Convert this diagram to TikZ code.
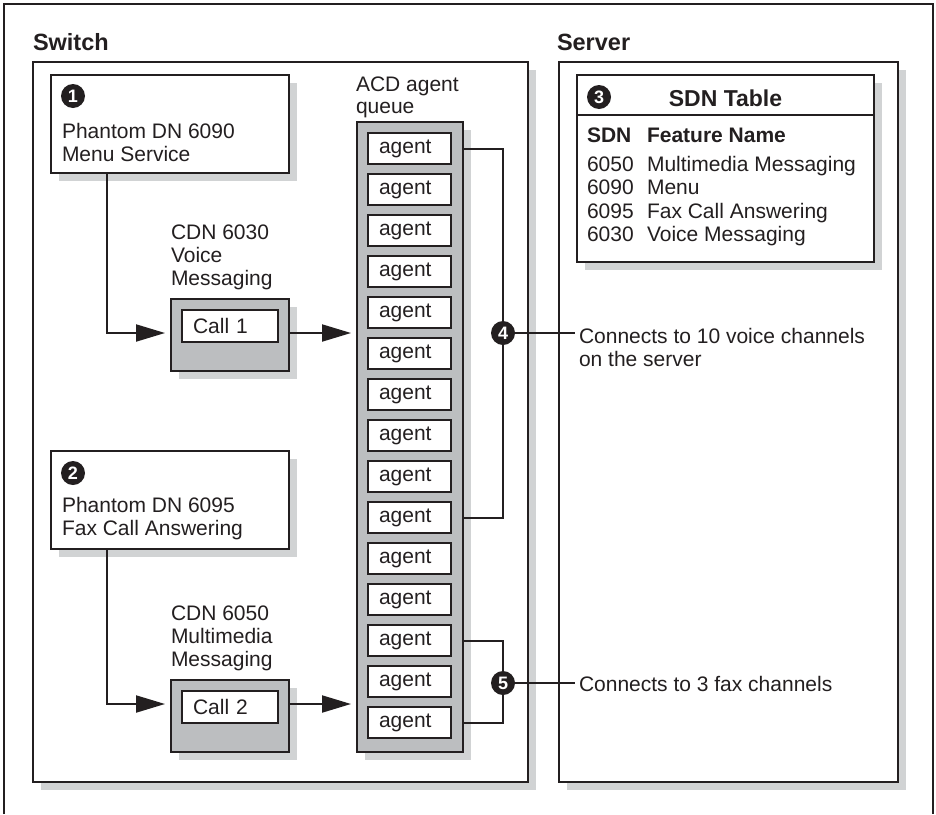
\documentclass[tikz,border=0pt]{standalone}
\usepackage{fontspec}
\setmainfont{Liberation Sans}
\usetikzlibrary{arrows.meta,shadows,calc}
\definecolor{ink}{HTML}{231F20}
\definecolor{boxgray}{HTML}{BCBEC0}
\definecolor{shadegray}{HTML}{D1D3D4}
\begin{document}
\begin{tikzpicture}[x=1pt,y=-1pt,
  every node/.style={inner sep=0pt, outer sep=0pt, text=ink},
  txt/.style={font=\fontsize{21}{23}\selectfont, anchor=base west},
  hdr/.style={font=\fontsize{21}{23}\selectfont\bfseries, anchor=base west},
  ttl/.style={font=\fontsize{23.5}{26}\selectfont\bfseries, anchor=base west},
  shadowed/.style={general shadow={shadow xshift=8pt, shadow yshift=-8pt, fill=shadegray}},
  panel/.style={draw=ink, line width=1.3pt, fill=white, shadowed, anchor=north west},
  graybox/.style={draw=ink, line width=1.3pt, fill=boxgray, shadowed, anchor=north west},
  agentbox/.style={draw=ink, line width=1.2pt, fill=white, anchor=north west,
    minimum width=83pt, minimum height=31pt, text width=61pt, align=left,
    inner xsep=11pt, font=\fontsize{21}{23}\selectfont, text height=14pt, text depth=4pt},
  callbox/.style={draw=ink, line width=1.2pt, fill=white, anchor=north west,
    minimum width=96pt, minimum height=32pt, text width=74pt, align=left,
    inner xsep=11pt, font=\fontsize{21}{23}\selectfont, text height=15pt, text depth=0pt},
  conn/.style={draw=ink, line width=2pt},
  arr/.style={conn, -{Triangle[length=29pt,width=17pt]}, shorten >=6pt},
  num/.style={circle, fill=ink, minimum size=24pt, text=white,
    font=\fontsize{18}{18}\selectfont\bfseries},
]
\useasboundingbox (0,0) rectangle (936,814);
\fill[white] (0,0) rectangle (936,814);
% outer frame
\draw[ink, line width=1.6pt] (4,814) -- (4,4) -- (933,4) -- (933,814);

% titles
\node[ttl] (swt) at (33,50) {Switch};
\node[ttl] (svt) at (557,50) {Server};

% panels
\node[panel, minimum width=495pt, minimum height=720pt] (sw) at (33,62) {};
\node[panel, minimum width=339pt, minimum height=720pt] (sv) at (559,62) {};

% box 1
\node[panel, minimum width=238pt, minimum height=98pt] (b1) at (51,75) {};
\node[num] (n1) at (73,96) {1};
\node[txt] (b1a) at (62,138) {Phantom DN 6090};
\node[txt] (b1b) at (62,161) {Menu Service};

% box 2
\node[panel, minimum width=238pt, minimum height=98pt] (b2) at (51,451) {};
\node[num] (n2) at (73,473) {2};
\node[txt] (b2a) at (62,512) {Phantom DN 6095};
\node[txt] (b2b) at (62,535) {Fax Call Answering};

% CDN labels
\node[txt] (l1a) at (171,239) {CDN 6030};
\node[txt] (l1b) at (171,262) {Voice};
\node[txt] (l1c) at (171,285) {Messaging};
\node[txt] (l2a) at (171,620) {CDN 6050};
\node[txt] (l2b) at (171,643) {Multimedia};
\node[txt] (l2c) at (171,666) {Messaging};

% call boxes
\node[graybox, minimum width=118pt, minimum height=72pt] (c1) at (171,299) {};
\node[callbox] (c1i) at (182,310) {Call 1};
\node[graybox, minimum width=118pt, minimum height=72pt] (c2) at (171,680) {};
\node[callbox] (c2i) at (182,691) {Call 2};

% queue
\node[txt] (qa) at (356,91) {ACD agent};
\node[txt] (qb) at (356,113) {queue};
\node[graybox, minimum width=106pt, minimum height=630pt] (q) at (357,122) {};
\foreach \i in {1,...,15}
  \node[agentbox] (a\i) at (368,{133+41*(\i-1)}) {agent};

% arrows
\draw[arr] ([xshift=56pt]b1.south west) |- ([yshift=2pt]c1.west);
\draw[arr] ([yshift=2pt]c1.east) -- ([yshift=2pt]c1.east -| q.west);
\draw[arr] ([xshift=56pt]b2.south west) |- ([yshift=12pt]c2.west);
\draw[arr] ([yshift=12pt]c2.east) -- ([yshift=12pt]c2.east -| q.west);

% brackets
\coordinate (k4) at (503,333);
\coordinate (k5) at (503,683);
\draw[conn] (a1.east -| q.east) -- (a1.east -| k4) -- (a10.east -| k4) -- (a10.east -| q.east);
\draw[conn] (a13.east -| q.east) -- (a13.east -| k5) -- (a15.east -| k5) -- (a15.east -| q.east);
\node[num] (n4) at (k4) {4};
\node[num] (n5) at (k5) {5};
\node[txt] (t4) at (579,343) {Connects to 10 voice channels};
\node[txt] (t4b) at (579,366) {on the server};
\node[txt] (t5) at (579,691) {Connects to 3 fax channels};
\draw[conn, line width=1.6pt, shorten >=4pt] (n4) -- (n4 -| t4.west);
\draw[conn, line width=1.6pt, shorten >=4pt] (n5) -- (n5 -| t5.west);

% SDN table
\node[panel, minimum width=297pt, minimum height=187pt] (tb) at (577,75) {};
\draw[ink, line width=1.2pt] ([yshift=-40pt]tb.north west) -- ([yshift=-40pt]tb.north east);
\node[num] (n3) at (599,97) {3};
\node[font=\fontsize{23}{26}\selectfont\bfseries, anchor=base] (tbt) at (725.5,106) {SDN Table};
\node[hdr] (h1) at (587,142) {SDN};
\node[hdr] (h2) at (647,142) {Feature Name};
\node[txt] (r1a) at (587,171) {6050};
\node[txt] (r1b) at (647,171) {Multimedia Messaging};
\node[txt] (r2a) at (587,194.5) {6090};
\node[txt] (r2b) at (647,194.5) {Menu};
\node[txt] (r3a) at (587,218) {6095};
\node[txt] (r3b) at (647,218) {Fax Call Answering};
\node[txt] (r4a) at (587,241.5) {6030};
\node[txt] (r4b) at (647,241.5) {Voice Messaging};
\end{tikzpicture}
\end{document}
